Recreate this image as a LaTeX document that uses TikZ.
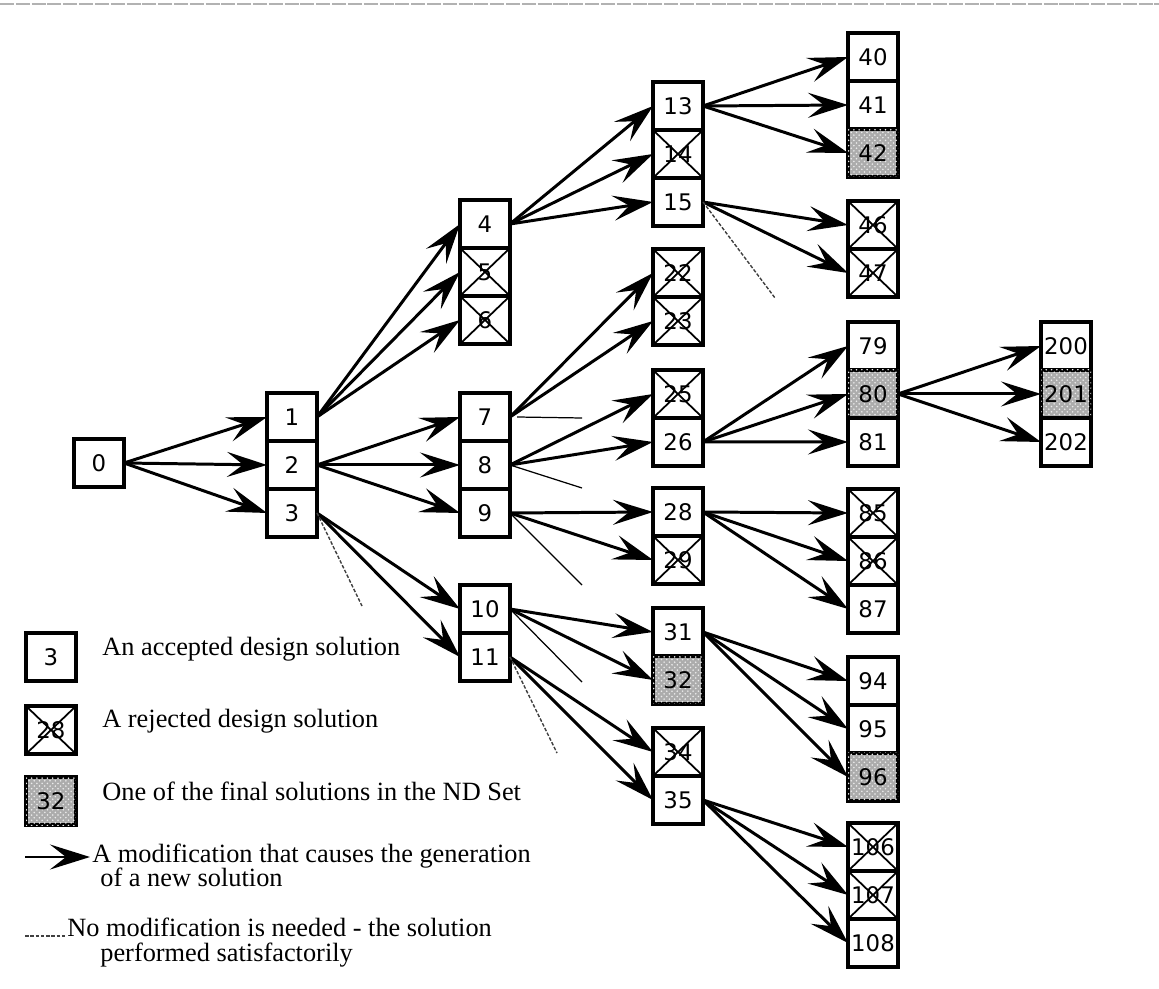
\documentclass[tikz,border=0pt]{standalone}
\usepackage{fontspec}
\setmainfont{Liberation Serif}
\setsansfont{DejaVu Sans}
\usetikzlibrary{positioning,arrows.meta,patterns}

\begin{document}
\begin{tikzpicture}[x=0.02cm, y=-0.02cm,
  cell/.style={draw, line width=1.8pt, minimum width=1cm, minimum height=0.96cm,
               inner sep=0pt, outer sep=0pt, fill=white,
               font=\sffamily\fontsize{13}{13}\selectfont},
  rejected/.style={cell, path picture={
      \draw[line width=1pt]
        (path picture bounding box.north west) -- (path picture bounding box.south east)
        (path picture bounding box.south west) -- (path picture bounding box.north east);}},
  final/.style={cell, fill=gray!65,
                postaction={pattern=crosshatch dots, pattern color=white!85!gray}},
  edge/.style={line width=1.7pt, -{Stealth[length=0.8cm, width=0.5cm, inset=0.32cm]}},
  nomod/.style={line width=0.7pt},
  nomoddash/.style={line width=0.8pt, gray!50!black, dash pattern=on 2pt off 1pt},
  keytext/.style={anchor=base west, inner sep=0pt, font=\fontsize{15}{18}\selectfont},
]
\useasboundingbox (0,0) rectangle (1159,989);

% scanned page edge
\coordinate (topl) at (0,4);
\coordinate (topr) at (1159,4);
\draw[gray!60, line width=0.6pt, dash pattern=on 8pt off 1pt] (topl) -- (topr);

% column 0 and 1
\node[cell] (s0) at (99,463) {0};
\node[cell] (s1) at (292,417) {1};
\node[cell, below=0pt of s1] (s2) {2};
\node[cell, below=0pt of s2] (s3) {3};

% column 2
\node[cell] (s4) at (485,224) {4};
\node[rejected, below=0pt of s4] (s5) {5};
\node[rejected, below=0pt of s5] (s6) {6};
\node[cell] (s7) at (485,417) {7};
\node[cell, below=0pt of s7] (s8) {8};
\node[cell, below=0pt of s8] (s9) {9};
\node[cell] (s10) at (485,609) {10};
\node[cell, below=0pt of s10] (s11) {11};

% column 3
\node[cell] (s13) at (678,106) {13};
\node[rejected, below=0pt of s13] (s14) {14};
\node[cell, below=0pt of s14] (s15) {15};
\node[rejected] (s22) at (678,273) {22};
\node[rejected, below=0pt of s22] (s23) {23};
\node[rejected] (s25) at (678,394) {25};
\node[cell, below=0pt of s25] (s26) {26};
\node[cell] (s28) at (678,512) {28};
\node[rejected, below=0pt of s28] (s29) {29};
\node[cell] (s31) at (678,632) {31};
\node[final, below=0pt of s31] (s32) {32};
\node[rejected] (s34) at (678,752) {34};
\node[cell, below=0pt of s34] (s35) {35};

% column 4
\node[cell] (s40) at (873,57) {40};
\node[cell, below=0pt of s40] (s41) {41};
\node[final, below=0pt of s41] (s42) {42};
\node[rejected] (s46) at (873,225) {46};
\node[rejected, below=0pt of s46] (s47) {47};
\node[cell] (s79) at (873,346) {79};
\node[final, below=0pt of s79] (s80) {80};
\node[cell, below=0pt of s80] (s81) {81};
\node[rejected] (s85) at (873,513) {85};
\node[rejected, below=0pt of s85] (s86) {86};
\node[cell, below=0pt of s86] (s87) {87};
\node[cell] (s94) at (873,681) {94};
\node[cell, below=0pt of s94] (s95) {95};
\node[final, below=0pt of s95] (s96) {96};
\node[rejected] (s106) at (873,847) {106};
\node[rejected, below=0pt of s106] (s107) {107};
\node[cell, below=0pt of s107] (s108) {108};

% column 5
\node[cell] (s200) at (1066,346) {200};
\node[final, below=0pt of s200] (s201) {201};
\node[cell, below=0pt of s201] (s202) {202};

% modifications
\draw[edge] (s0.east) -- (s1.west);
\draw[edge] (s0.east) -- (s2.west);
\draw[edge] (s0.east) -- (s3.west);
\draw[edge] (s1.east) -- (s4.west);
\draw[edge] (s1.east) -- (s5.west);
\draw[edge] (s1.east) -- (s6.west);
\draw[edge] (s2.east) -- (s7.west);
\draw[edge] (s2.east) -- (s8.west);
\draw[edge] (s2.east) -- (s9.west);
\draw[edge] (s3.east) -- (s10.west);
\draw[edge] (s3.east) -- (s11.west);
\draw[edge] (s4.east) -- (s13.west);
\draw[edge] (s4.east) -- (s14.west);
\draw[edge] (s4.east) -- (s15.west);
\draw[edge] (s7.east) -- (s22.west);
\draw[edge] (s7.east) -- (s23.west);
\draw[edge] (s8.east) -- (s25.west);
\draw[edge] (s8.east) -- (s26.west);
\draw[edge] (s9.east) -- (s28.west);
\draw[edge] (s9.east) -- (s29.west);
\draw[edge] (s10.east) -- (s31.west);
\draw[edge] (s10.east) -- (s32.west);
\draw[edge] (s11.east) -- (s34.west);
\draw[edge] (s11.east) -- (s35.west);
\draw[edge] (s13.east) -- (s40.west);
\draw[edge] (s13.east) -- (s41.west);
\draw[edge] (s13.east) -- (s42.west);
\draw[edge] (s15.east) -- (s46.west);
\draw[edge] (s15.east) -- (s47.west);
\draw[edge] (s26.east) -- (s79.west);
\draw[edge] (s26.east) -- (s80.west);
\draw[edge] (s26.east) -- (s81.west);
\draw[edge] (s28.east) -- (s85.west);
\draw[edge] (s28.east) -- (s86.west);
\draw[edge] (s28.east) -- (s87.west);
\draw[edge] (s31.east) -- (s94.west);
\draw[edge] (s31.east) -- (s95.west);
\draw[edge] (s31.east) -- (s96.west);
\draw[edge] (s35.east) -- (s106.west);
\draw[edge] (s35.east) -- (s107.west);
\draw[edge] (s35.east) -- (s108.west);
\draw[edge] (s80.east) -- (s200.west);
\draw[edge] (s80.east) -- (s201.west);
\draw[edge] (s80.east) -- (s202.west);

% no modification needed
\coordinate (ok3) at (362,606);
\coordinate (ok7) at (582,418);
\coordinate (ok8) at (582,488);
\coordinate (ok9) at (582,585);
\coordinate (ok10) at (582,682);
\coordinate (ok11) at (557,753);
\coordinate (ok15) at (775,298);
\draw[nomoddash] (s3.east) -- (ok3);
\draw[nomod] ([xshift=4pt]s7.east) -- (ok7);
\draw[nomod] (s8.east) -- (ok8);
\draw[nomod] (s9.east) -- (ok9);
\draw[nomod] (s10.east) -- (ok10);
\draw[nomoddash] (s11.east) -- (ok11);
\draw[nomoddash] (s15.east) -- (ok15);

% key
\node[cell] (key3) at (51,657) {3};
\node[rejected] (key28) at (51,730) {28};
\node[final] (key32) at (51,801) {32};
\node[keytext] (keyt1) at (102,655) {An accepted design solution};
\node[keytext] (keyt2) at (102,727) {A rejected design solution};
\node[keytext] (keyt3) at (102,800) {One of the final solutions in the ND Set};
\coordinate (keya) at (25,857);
\coordinate (keyb) at (90,857);
\draw[edge] (keya) -- (keyb);
\node[keytext] (keyt4) at (92,862) {A modification that causes the generation};
\node[keytext] (keyt5) at (100,886) {of a new solution};
\coordinate (keyc) at (25,936);
\coordinate (keyd) at (66,936);
\draw[nomoddash] (keyc) -- (keyd);
\node[keytext] (keyt6) at (67,936) {No modification is needed - the solution};
\node[keytext] (keyt7) at (100,961) {performed satisfactorily};

\end{tikzpicture}
\end{document}
